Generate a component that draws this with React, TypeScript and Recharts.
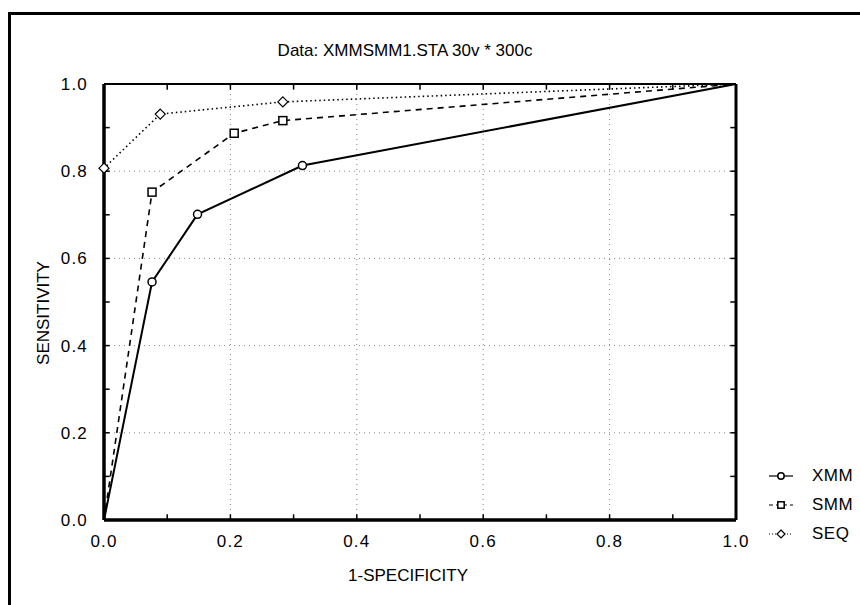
import {
  CartesianGrid,
  Legend,
  Line,
  LineChart,
  ReferenceLine,
  XAxis,
  YAxis,
} from "recharts";

// ROC curves.
const xmmX = [0, 0.076, 0.148, 0.314, 1];
const xmmY = [0, 0.546, 0.701, 0.813, 1];
const smmX = [0, 0.076, 0.206, 0.283, 1];
const smmY = [0, 0.752, 0.887, 0.916, 1];
const seqX = [0, 0, 0.089, 0.283, 1];
const seqY = [0, 0.807, 0.931, 0.959, 1];

const axisTicks = [0, 0.2, 0.4, 0.6, 0.8, 1];
const minorTicks = [0.1, 0.2, 0.3, 0.4, 0.5, 0.6, 0.7, 0.8, 0.9];

const FONT = "'Liberation Sans', Arial, sans-serif";

type Marker = "circle" | "square" | "diamond";

const series = [
  { name: "XMM", xs: xmmX, ys: xmmY, dash: undefined, width: 2, marker: "circle" as Marker },
  { name: "SMM", xs: smmX, ys: smmY, dash: "6 5", width: 1.6, marker: "square" as Marker },
  { name: "SEQ", xs: seqX, ys: seqY, dash: "1.5 3", width: 1.6, marker: "diamond" as Marker },
];

function MarkerShape({ cx, cy, marker, s = 1 }: { cx: number; cy: number; marker: Marker; s?: number }) {
  if (marker === "circle") {
    return <circle cx={cx} cy={cy} r={4 * s} fill="#fff" stroke="#000" strokeWidth={1.5} />;
  }
  if (marker === "square") {
    const h = 4 * s;
    return <rect x={cx - h} y={cy - h} width={2 * h} height={2 * h} fill="#fff" stroke="#000" strokeWidth={1.5} />;
  }
  const d = 5 * s;
  return (
    <path
      d={`M${cx} ${cy - d}L${cx + d} ${cy}L${cx} ${cy + d}L${cx - d} ${cy}Z`}
      fill="#fff"
      stroke="#000"
      strokeWidth={1.2}
    />
  );
}

function makeDot(marker: Marker, count: number) {
  return (props: any) => {
    const { cx, cy, index } = props;
    if (index === 0 || index === count - 1) {
      return <g key={`d-${index}`} />;
    }
    return (
      <g key={`d-${index}`}>
        <MarkerShape cx={cx} cy={cy} marker={marker} />
      </g>
    );
  };
}

function LegendBox() {
  return (
    <div style={{ fontFamily: FONT, fontSize: 17, color: "#000", letterSpacing: 0.5 }}>
      {series.map((s) => (
        <div key={s.name} style={{ display: "flex", alignItems: "center", height: 29 }}>
          <svg width={44} height={14}>
            <line
              x1={1}
              y1={7}
              x2={25}
              y2={7}
              stroke="#000"
              strokeWidth={1.2}
              strokeDasharray={s.dash ? (s.dash === "6 5" ? "4 3" : "1 2") : undefined}
            />
            <MarkerShape cx={13} cy={7} marker={s.marker} s={0.8} />
          </svg>
          <span>{s.name}</span>
        </div>
      ))}
    </div>
  );
}

export default function App() {
  return (
    <div
      style={{
        position: "fixed",
        left: 0,
        top: 0,
        width: 860,
        height: 605,
        overflow: "hidden",
        background: "#fff",
      }}
    >
      <div
        style={{
          position: "absolute",
          left: 8,
          top: 12,
          width: 1000,
          height: 1000,
          borderLeft: "3px solid #000",
          borderTop: "3px solid #000",
        }}
      />
      <div style={{ position: "absolute", left: 0, top: 0 }}>
        <LineChart
          width={860}
          height={605}
          margin={{ top: 84, right: 124, left: 0, bottom: 25 }}
          style={{ fontFamily: FONT }}
        >
          <CartesianGrid stroke="#888" strokeDasharray="1 4" />
          <XAxis
            type="number"
            dataKey="x"
            domain={[0, 1]}
            ticks={axisTicks}
            allowDuplicatedCategory={false}
            height={60}
            tickLine={false}
            tickMargin={9}
            axisLine={false}
            tick={{ fill: "#000", fontSize: 17, letterSpacing: 1.2 }}
            tickFormatter={(v: number) => v.toFixed(1)}
          />
          <YAxis
            type="number"
            domain={[0, 1]}
            ticks={axisTicks}
            width={104}
            tickLine={false}
            tickMargin={10}
            axisLine={false}
            tick={{ fill: "#000", fontSize: 17, letterSpacing: 1.2 }}
            tickFormatter={(v: number) => v.toFixed(1)}
          />
          {minorTicks.map((t) => (
            <ReferenceLine key={`b${t}`} segment={[{ x: t, y: 0 }, { x: t, y: 0.013 }]} stroke="#000" strokeWidth={1.5} />
          ))}
          {minorTicks.map((t) => (
            <ReferenceLine key={`t${t}`} segment={[{ x: t, y: 0.987 }, { x: t, y: 1 }]} stroke="#000" strokeWidth={1.5} />
          ))}
          {minorTicks.map((t) => (
            <ReferenceLine key={`l${t}`} segment={[{ x: 0, y: t }, { x: 0.009, y: t }]} stroke="#000" strokeWidth={1.5} />
          ))}
          {minorTicks.map((t) => (
            <ReferenceLine key={`r${t}`} segment={[{ x: 0.991, y: t }, { x: 1, y: t }]} stroke="#000" strokeWidth={1.5} />
          ))}
          {series.map((s) => (
            <Line
              key={s.name}
              name={s.name}
              data={s.xs.map((x, i) => ({ x, y: s.ys[i] }))}
              dataKey="y"
              type="linear"
              stroke="#000"
              strokeWidth={s.width}
              strokeDasharray={s.dash}
              dot={makeDot(s.marker, s.xs.length)}
              activeDot={false}
              isAnimationActive={false}
            />
          ))}
          <ReferenceLine y={1} stroke="#000" strokeWidth={2} />
          <ReferenceLine x={1} stroke="#000" strokeWidth={3} />
          <ReferenceLine y={0} stroke="#000" strokeWidth={3.5} />
          <ReferenceLine x={0} stroke="#000" strokeWidth={3.5} />
          <Legend
            layout="vertical"
            align="center"
            verticalAlign="middle"
            content={() => <LegendBox />}
            wrapperStyle={{ left: 768, top: 461, width: 92, height: 90 }}
          />
          <text x={405} y={50} textAnchor="middle" dominantBaseline="central" fontSize={17} fill="#000">
            Data: XMMSMM1.STA 30v * 300c
          </text>
          <text x={408} y={575} textAnchor="middle" dominantBaseline="central" fontSize={17} fill="#000">
            1-SPECIFICITY
          </text>
          <text
            x={43}
            y={313}
            transform="rotate(-90 43 313)"
            textAnchor="middle"
            dominantBaseline="central"
            fontSize={17}
            fill="#000"
          >
            SENSITIVITY
          </text>
        </LineChart>
      </div>
    </div>
  );
}
